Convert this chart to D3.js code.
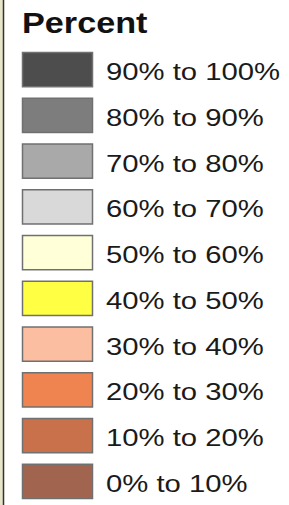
<!DOCTYPE html>
<html>
<head>
<meta charset="utf-8">
<script src="https://cdn.jsdelivr.net/npm/d3@7"></script>
<style>
  body { margin: 0; background: #fff; }
  svg { display: block; }
</style>
</head>
<body>
<svg id="legend" width="289" height="505"></svg>
<script>

// legend classes, top to bottom
var labels = ["90% to 100%", "80% to 90%", "70% to 80%", "60% to 70%", "50% to 60%",
              "40% to 50%", "30% to 40%", "20% to 30%", "10% to 20%", "0% to 10%"];
var colours = ["#4d4d4d", "#7d7d7d", "#a9a9a9", "#d9d9d9", "#ffffd8",
               "#ffff44", "#fcbea1", "#ef8450", "#c9714a", "#a1654f"];
var title = "Percent";

// text in the picture is a bit stretched sideways
var STRETCH = 1.22;

var svg = d3.select("#legend");

// bit of the map showing on the left edge
svg.append("rect")
	.attr("x", 0).attr("y", 0)
	.attr("width", 3).attr("height", 505)
	.style("fill", "#e8e6c8");
svg.append("line")
	.attr("x1", 3.5).attr("x2", 3.5)
	.attr("y1", 0).attr("y2", 505)
	.style("stroke", "#333")
	.style("stroke-width", 1.5);

svg.append("text")
	.attr("transform", "translate(22,33) scale(1.18,1)")
	.style("font-family", "Liberation Sans, Arial, sans-serif")
	.style("font-weight", "bold")
	.style("font-size", "29px")
	.style("fill", "#111")
	.text(title);

var y = d3.scaleBand()
	.domain(labels)
	.range([52, 499])
	.paddingInner(0.23);

var colour = d3.scaleOrdinal()
	.domain(labels)
	.range(colours);

var rows = svg.selectAll("g.row")
	.data(labels)
	.enter().append("g")
	.attr("class", "row");

rows.append("rect")
	.attr("x", 22.5)
	.attr("y", function(d) { return y(d) + 0.5; })
	.attr("width", 70)
	.attr("height", function() { return y.bandwidth() - 1; })
	.style("fill", function(d) { return colour(d); })
	.style("stroke", "#707070")
	.style("stroke-width", 1.5);

rows.append("text")
	.attr("transform", function(d) {
		return "translate(106," + (y(d) + y.bandwidth() / 2 + 10.5) + ") scale(" + STRETCH + ",1)";
	})
	.style("font-family", "Liberation Sans, Arial, sans-serif")
	.style("font-size", "24px")
	.style("fill", "#1a1a1a")
	.text(function(d) { return d; });

</script>
</body>
</html>
